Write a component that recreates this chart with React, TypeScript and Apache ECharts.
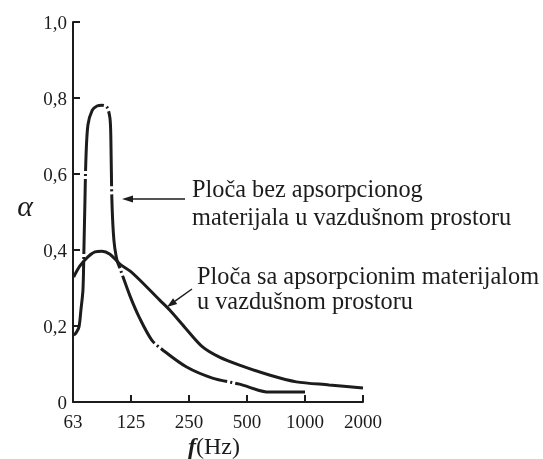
import React, { useEffect, useRef } from "react";
import * as echarts from "echarts";

// Curve 1: plate without absorbing material in the air space (Hz, alpha)
const freqA = [63, 64.8, 67.1, 68.7, 70.4, 71.2, 72.1, 72.9, 74.7, 78.7, 83.3, 88.3, 93.7, 97.2, 98.3, 99.5, 101.9, 105.6, 109.5, 123.3, 138.8, 160.2, 182.6, 243, 331, 457, 653, 1000];
const alphaA = [0.176, 0.182, 0.197, 0.242, 0.295, 0.4, 0.53, 0.637, 0.729, 0.768, 0.779, 0.781, 0.776, 0.747, 0.689, 0.53, 0.426, 0.374, 0.352, 0.28, 0.22, 0.163, 0.137, 0.092, 0.063, 0.047, 0.026, 0.026];

// Curve 2: plate with absorbing material in the air space
const freqB = [63, 67.9, 74.7, 81.3, 88.3, 97.2, 109.5, 123.3, 138.8, 176.2, 198.5, 237.3, 294, 360, 457, 653, 901, 1334, 2000];
const alphaB = [0.329, 0.358, 0.382, 0.395, 0.397, 0.389, 0.363, 0.345, 0.321, 0.268, 0.242, 0.197, 0.145, 0.118, 0.097, 0.071, 0.053, 0.045, 0.037];

const xTickLabels = ["63", "125", "250", "500", "1000", "2000"];
const yTickLabels = ["0", "0,2", "0,4", "0,6", "0,8", "1,0"];

const annotationA = ["Ploča bez apsorpcionog", "materijala u vazdušnom prostoru"];
const annotationB = ["Ploča sa apsorpcionim materijalom", "u vazdušnom prostoru"];

const INK = "#1c1c1c";

const octave = (f: number) => Math.log2(f / 62.5);

export default function App() {
  const ref = useRef<HTMLDivElement>(null);
  useEffect(() => {
    if (!ref.current) return;
    const chart = echarts.init(ref.current, undefined, { renderer: "svg" });
    const toPairs = (fs: number[], as: number[]) => fs.map((f, i) => [octave(f), as[i]]);
    chart.setOption({
      animation: false,
      grid: { left: 73, right: 180, top: 22, bottom: 57, containLabel: false },
      xAxis: {
        type: "value",
        min: 0,
        max: 5,
        interval: 1,
        axisLine: { show: true, lineStyle: { color: INK, width: 2 } },
        axisTick: { show: true, inside: true, length: 7, lineStyle: { color: INK, width: 2 } },
        axisLabel: {
          margin: 10,
          fontFamily: "Liberation Serif",
          fontSize: 19,
          color: INK,
          formatter: (v: number) => xTickLabels[Math.round(v)] ?? "",
        },
        splitLine: { show: false },
      },
      yAxis: {
        type: "value",
        min: 0,
        max: 1,
        interval: 0.2,
        axisLine: { show: true, lineStyle: { color: INK, width: 2 } },
        axisTick: { show: true, inside: true, length: 7, lineStyle: { color: INK, width: 2 } },
        axisLabel: {
          margin: 6,
          fontFamily: "Liberation Serif",
          fontSize: 19,
          color: INK,
          formatter: (v: number) => yTickLabels[Math.round(v / 0.2)] ?? "",
        },
        splitLine: { show: false },
      },
      series: [
        {
          type: "line",
          data: toPairs(freqA, alphaA),
          showSymbol: false,
          smooth: 0.3,
          lineStyle: { color: INK, width: 3, type: [75, 3, 2, 3] },
        },
        {
          type: "line",
          data: toPairs(freqB, alphaB),
          showSymbol: false,
          smooth: 0.3,
          lineStyle: { color: INK, width: 3 },
        },
      ],
      graphic: [
        { type: "text", style: { x: 25, y: 205, text: "α", fontFamily: "Liberation Serif", fontStyle: "italic", fontSize: 30, fill: INK, align: "center", verticalAlign: "middle" } },
        {
          type: "text",
          style: {
            x: 214,
            y: 446,
            text: "{f|f}(Hz)",
            fontFamily: "Liberation Serif",
            fontSize: 24,
            fill: INK,
            align: "center",
            verticalAlign: "middle",
            rich: { f: { fontFamily: "Liberation Serif", fontSize: 24, fontStyle: "italic", fontWeight: "bold", fill: INK } },
          },
        },
        { type: "text", style: { x: 192, y: 188, text: annotationA[0], fontFamily: "Liberation Serif", fontSize: 24.3, fill: INK, verticalAlign: "middle" } },
        { type: "text", style: { x: 192, y: 216, text: annotationA[1], fontFamily: "Liberation Serif", fontSize: 24.3, fill: INK, verticalAlign: "middle" } },
        { type: "text", style: { x: 197, y: 275, text: annotationB[0], fontFamily: "Liberation Serif", fontSize: 24.3, fill: INK, verticalAlign: "middle" } },
        { type: "text", style: { x: 197, y: 300, text: annotationB[1], fontFamily: "Liberation Serif", fontSize: 24.3, fill: INK, verticalAlign: "middle" } },
        { type: "line", shape: { x1: 185, y1: 199, x2: 131, y2: 199 }, style: { stroke: INK, lineWidth: 1.5 } },
        { type: "polygon", shape: { points: [[122, 199], [133, 195.5], [133, 202.5]] }, style: { fill: INK } },
        { type: "line", shape: { x1: 192, y1: 289, x2: 175, y2: 301.2 }, style: { stroke: INK, lineWidth: 1.5 } },
        { type: "polygon", shape: { points: [[167, 307], [177.2, 304.0], [173.1, 298.3]] }, style: { fill: INK } },
      ],
    });
    return () => chart.dispose();
  }, []);
  return <div ref={ref} style={{ position: "fixed", left: 0, top: 0, width: 543, height: 459 }} />;
}
